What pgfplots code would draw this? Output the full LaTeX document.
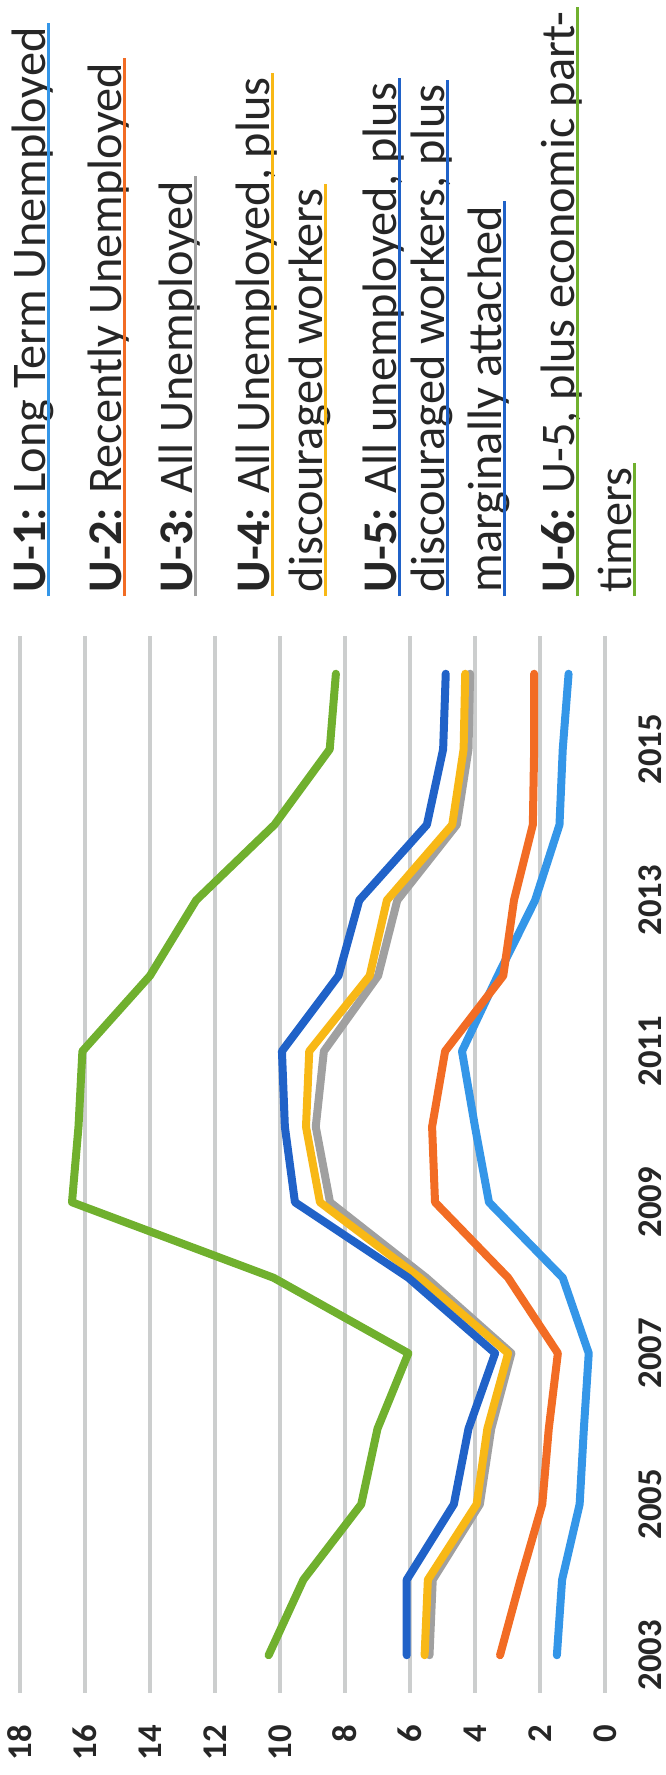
\documentclass[border=0pt]{standalone}
\usepackage{fontspec}
\setmainfont{Carlito}
\usepackage{pgfplots}
\pgfplotsset{compat=1.18}
\usepackage{pgfplotstable}
\definecolor{cU1}{RGB}{52,150,232}
\definecolor{cU2}{RGB}{242,108,36}
\definecolor{cU3}{RGB}{160,160,160}
\definecolor{cU4}{RGB}{248,184,22}
\definecolor{cU5}{RGB}{32,98,200}
\definecolor{cU6}{RGB}{112,176,46}
\definecolor{gridc}{RGB}{204,206,206}
\definecolor{txtc}{RGB}{38,38,38}

\pgfplotstableread{
year u1 u2 u3 u4 u5 u6
2003 1.48 3.23 5.40 5.55 6.10 10.35
2004 1.32 2.60 5.30 5.45 6.10 9.28
2005 0.78 1.93 3.85 3.95 4.65 7.50
2006 0.65 1.73 3.50 3.62 4.20 7.00
2007 0.50 1.45 2.88 2.98 3.38 6.05
2008 1.30 2.98 5.50 5.70 6.05 10.20
2009 3.57 5.23 8.46 8.77 9.54 16.40
2010 4.00 5.32 8.90 9.20 9.85 16.20
2011 4.40 4.92 8.65 9.10 9.94 16.08
2012 3.30 3.13 6.98 7.24 8.20 14.00
2013 2.15 2.80 6.39 6.71 7.56 12.58
2014 1.40 2.22 4.56 4.70 5.48 10.17
2015 1.30 2.18 4.20 4.35 4.98 8.47
2016 1.12 2.18 4.15 4.30 4.90 8.28
}\data

\begin{document}
\begin{tikzpicture}
\path[use as bounding box] (0,0) rectangle (199.8pt,532.5pt);
\clip (0,0) rectangle (199.8pt,532.5pt);
\begin{axis}[
  at={(6pt,24.6pt)}, anchor=south west,
  scale only axis, width=175.5pt, height=317.1pt,
  xmin=0, xmax=18, ymin=2002.5, ymax=2016.5,
  x dir=reverse,
  xtick={0,2,...,18}, ytick={2003,2005,...,2015},
  xmajorgrids, ymajorgrids=false,
  grid style={line width=1.1pt, color=gridc},
  axis line style={draw=none},
  major tick length=0pt,
  yticklabel pos=right,
  /pgf/number format/assume math mode=true,
  xticklabel style={rotate=90, anchor=east, inner xsep=9.5pt, font=\bfseries\fontsize{10.4}{12}\selectfont, text=txtc},
  yticklabel style={rotate=90, anchor=north, inner ysep=10pt, font=\bfseries\fontsize{10.4}{12}\selectfont, text=txtc, /pgf/number format/1000 sep={}},
  every axis plot/.append style={line width=2.4pt, line join=round, line cap=round, mark=none},
]
\addplot[cU1] table[x=u1, y=year] {\data};
\addplot[cU2] table[x=u2, y=year] {\data};
\addplot[cU3] table[x=u3, y=year] {\data};
\addplot[cU4] table[x=u4, y=year] {\data};
\addplot[cU5] table[x=u5, y=year] {\data};
\addplot[cU6] table[x=u6, y=year] {\data};
\end{axis}

\tikzset{leg/.style={rotate=90, anchor=base west, inner sep=0pt, font=\fontsize{14.5}{17}\selectfont, text=txtc}}
\newcommand\legline[4]{%
  \node[leg] (#1) at (#2,354.6pt) {#4};
  \draw[#3, line width=1pt] ([xshift=1.1pt, yshift=-1pt]#1.base west) -- ([xshift=1.1pt, yshift=1.2pt]#1.base east);
}
\legline{a}{13.5pt}{cU1}{\textbf{U-1:} Long Term Unemployed}
\legline{b}{36.3pt}{cU2}{\textbf{U-2:} Recently Unemployed}
\legline{c}{57.6pt}{cU3}{\textbf{U-3:} All Unemployed}
\legline{d}{80.7pt}{cU4}{\textbf{U-4:} All Unemployed, plus}
\legline{e}{96.6pt}{cU4}{discouraged workers}
\legline{f}{118.8pt}{cU5}{\textbf{U-5:} All unemployed, plus}
\legline{g}{133.2pt}{cU5}{discouraged workers, plus}
\legline{h}{150.3pt}{cU5}{marginally attached}
\legline{i}{172.2pt}{cU6}{\textbf{U-6:} U-5, plus economic part-}
\legline{j}{189.3pt}{cU6}{timers}
\end{tikzpicture}
\end{document}
